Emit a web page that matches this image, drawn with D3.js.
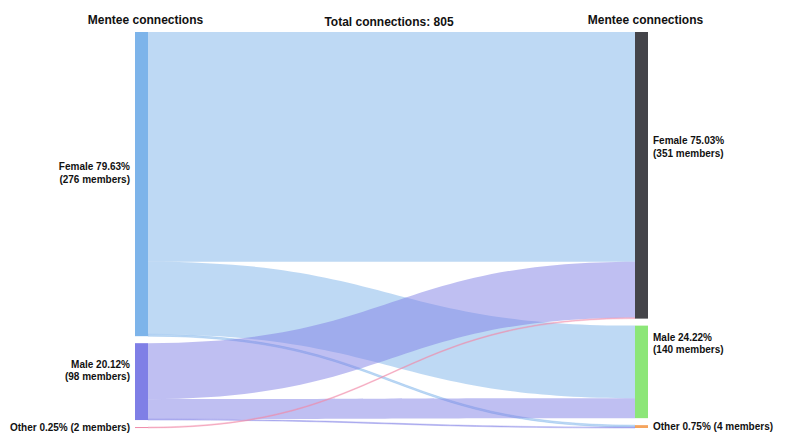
<!DOCTYPE html>
<html>
<head>
<meta charset="utf-8">
<script src="https://cdn.jsdelivr.net/npm/d3@7"></script>
<style>
  body { margin: 0; background: #fff; }
  svg { display: block; font-family: Arial, "Liberation Sans", sans-serif; }
</style>
</head>
<body>
<svg></svg>
<script>
// Chart data
let totalConnections = 805;
let leftNames = ['Female', 'Male', 'Other'];
let leftPct = [79.63, 20.12, 0.25];
let leftMembers = [276, 98, 2];
let rightNames = ['Female', 'Male', 'Other'];
let rightPct = [75.03, 24.22, 0.75];
let rightMembers = [351, 140, 4];
let leftColors = ['#7db4ea', '#7f7fe6', '#f08aa8'];
let rightColors = ['#444449', '#8ce678', '#f5a45d'];

// links: source index (left), target index (right), connections
let linkSource = [0, 0, 0, 1, 1, 1, 2];
let linkTarget = [0, 1, 2, 0, 1, 2, 0];
let linkValue = [484, 153, 4, 118, 42, 2, 2];

// SVG Dimensions
let width = 792, height = 438;
let plotTop = 32, plotBottom = 428, nodePadding = 7, nodeWidth = 13;
let leftX = 135, rightX = 635;

let svg = d3.select('svg').attr('width', width).attr('height', height);

let ky = d3.scaleLinear()
    .domain([0, totalConnections])
    .range([0, (plotBottom - plotTop) - nodePadding * 2]);

// sum the links to get node sizes
function buildNodes(names, key) {
    return names.map((name, i) => {
        let value = d3.sum(linkValue.filter((v, j) => (key === 'left' ? linkSource[j] : linkTarget[j]) === i));
        return { name: name, index: i, value: value };
    });
}

let leftNodes = buildNodes(leftNames, 'left');
let rightNodes = buildNodes(rightNames, 'right');

function stack(nodes) {
    let y = plotTop;
    nodes.forEach((n) => {
        n.y0 = y;
        n.y1 = y + ky(n.value);
        y = n.y1 + nodePadding;
    });
}
stack(leftNodes);
stack(rightNodes);

// link positions at both ends
let links = linkValue.map((v, i) => ({ s: linkSource[i], t: linkTarget[i], value: v, index: i }));
leftNodes.forEach((n) => {
    let y = n.y0;
    links.filter((l) => l.s === n.index).sort((a, b) => a.t - b.t).forEach((l) => {
        l.sy0 = y; y += ky(l.value); l.sy1 = y;
    });
});
rightNodes.forEach((n) => {
    let y = n.y0;
    links.filter((l) => l.t === n.index).sort((a, b) => a.s - b.s).forEach((l) => {
        l.ty0 = y; y += ky(l.value); l.ty1 = y;
    });
});

function bandPath(l) {
    let x0 = leftX + nodeWidth, x1 = rightX, xm = (x0 + x1) / 2;
    let p = d3.path();
    p.moveTo(x0, l.sy0);
    p.bezierCurveTo(xm, l.sy0, xm, l.ty0, x1, l.ty0);
    p.lineTo(x1, l.ty1);
    p.bezierCurveTo(xm, l.ty1, xm, l.sy1, x0, l.sy1);
    p.closePath();
    return p.toString();
}

svg.append('g')
    .selectAll('path')
    .data(links)
    .enter()
    .append('path')
    .attr('d', bandPath)
    .attr('fill', (d) => leftColors[d.s])
    .attr('fill-opacity', (d) => d.s === 2 ? 0.6 : 0.5)
    .attr('stroke', (d) => leftColors[d.s])
    .attr('stroke-opacity', (d) => d.value < 10 ? 0.6 : 0)
    .attr('stroke-width', 0.6);

// nodes
svg.append('g')
    .selectAll('rect')
    .data(leftNodes)
    .enter()
    .append('rect')
    .attr('x', leftX)
    .attr('y', (d) => d.y0)
    .attr('width', nodeWidth)
    .attr('height', (d) => Math.max(1, d.y1 - d.y0))
    .attr('fill', (d, i) => leftColors[i]);

svg.append('g')
    .selectAll('rect')
    .data(rightNodes)
    .enter()
    .append('rect')
    .attr('x', rightX)
    .attr('y', (d) => d.y0)
    .attr('width', nodeWidth)
    .attr('height', (d) => Math.max(1, d.y1 - d.y0))
    .attr('fill', (d, i) => rightColors[i]);

// node labels
function labelLines(name, pct, members) {
    let a = name + ' ' + pct.toFixed(2) + '%';
    let b = '(' + members + ' members)';
    return members < 10 ? [a + ' ' + b] : [a, b];
}

function drawLabels(nodes, pcts, members, side) {
    let g = svg.append('g')
        .attr('font-size', '10px')
        .attr('font-weight', 'bold')
        .attr('fill', '#111');
    nodes.forEach((n, i) => {
        let lines = labelLines(n.name, pcts[i], members[i]);
        let cy = (n.y0 + n.y1) / 2;
        let first = lines.length > 1 ? cy + (side === 'left' ? -14 : -31) : cy + 3.5;
        let x = side === 'left' ? leftX - 5 : rightX + nodeWidth + 5;
        let t = g.append('text')
            .attr('text-anchor', side === 'left' ? 'end' : 'start');
        lines.forEach((line, j) => {
            t.append('tspan')
                .attr('x', x)
                .attr('y', first + j * 12.5)
                .text(line);
        });
    });
}
drawLabels(leftNodes, leftPct, leftMembers, 'left');
drawLabels(rightNodes, rightPct, rightMembers, 'right');

// titles
let titles = svg.append('g')
    .attr('font-size', '12px')
    .attr('font-weight', 'bold')
    .attr('fill', '#111')
    .attr('text-anchor', 'middle');
titles.append('text').attr('x', leftX + nodeWidth / 2 + 4).attr('y', 24).text('Mentee connections');
titles.append('text').attr('x', 389).attr('y', 25.5).text('Total connections: ' + totalConnections);
titles.append('text').attr('x', rightX + nodeWidth / 2 + 4).attr('y', 24).text('Mentee connections');
</script>
</body>
</html>
